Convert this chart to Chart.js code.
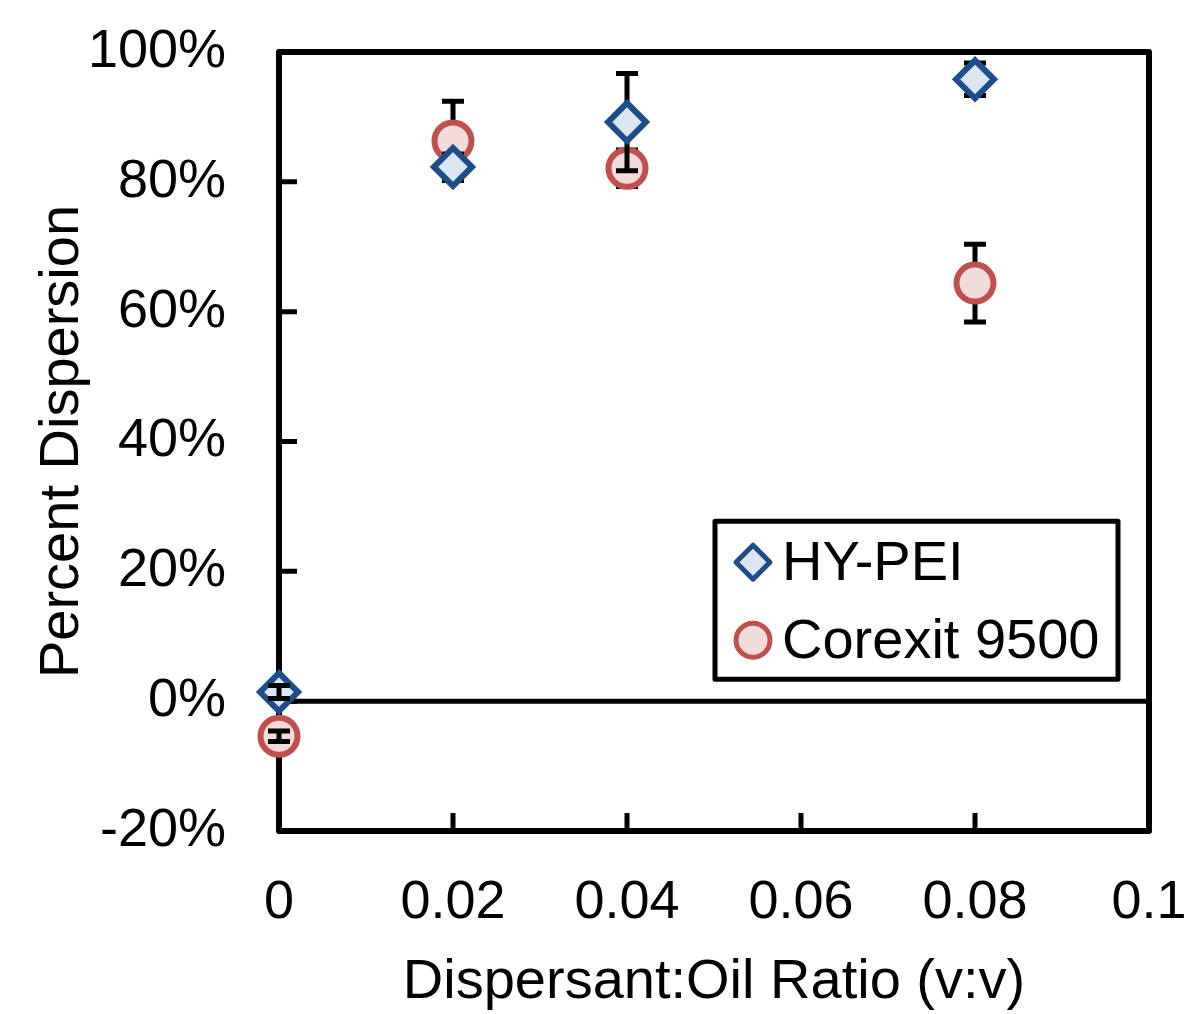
<!DOCTYPE html>
<html>
<head>
<meta charset="utf-8">
<script src="https://cdn.jsdelivr.net/npm/chart.js@4.4.1/dist/chart.umd.min.js"></script>
<style>
  html, body { margin: 0; padding: 0; background: #fff; }
  #wrap { width: 1190px; height: 1014px; }
</style>
</head>
<body>
<div id="wrap"><canvas id="myChart" width="1190" height="1014"></canvas></div>
<script>
var ratios = [0, 0.02, 0.04, 0.08];
var hyPei = [1.4, 82.3, 89.2, 95.8];
var hyPeiErr = [1.0, 2.0, 7.5, 2.5];
var corexit = [-5.4, 86.3, 82.1, 64.4];
var corexitErr = [0.8, 6.1, 2.8, 6.0];
var xTickLabels = ["0", "0.02", "0.04", "0.06", "0.08", "0.1"];
var yTickLabels = ["-20%", "0%", "20%", "40%", "60%", "80%", "100%"];
var seriesNames = ["HY-PEI", "Corexit 9500"];

Chart.defaults.font.family = "'Liberation Sans', Arial, sans-serif";
Chart.defaults.color = "#000";

var blueLine = "#1c4f8a";
var blueFill = "#dce6f2";
var redLine = "#c0504d";
var redFill = "#f2dcdb";

function points(vals) {
    var out = [];
    ratios.forEach(function (r, i) {
        out.push({ x: r, y: vals[i] });
    });
    return out;
}

// error bars, drawn just before each series' markers
// (points sitting on the left axis get theirs on top, like the original)
function drawErrorBars(chart, index, onTop) {
    var ds = chart.data.datasets[index];
    var xs = chart.scales.x;
    var ys = chart.scales.y;
    var c = chart.ctx;
    c.save();
    c.strokeStyle = "#000";
    c.lineWidth = 5;
    ds.data.forEach(function (p, i) {
        var px = xs.getPixelForValue(p.x);
        var atEdge = Math.abs(px - chart.chartArea.left) < 1;
        if (atEdge !== onTop) return;
        var top = ys.getPixelForValue(p.y + ds.errors[i]);
        var bot = ys.getPixelForValue(p.y - ds.errors[i]);
        c.beginPath();
        c.moveTo(px, top);
        c.lineTo(px, bot);
        c.moveTo(px - 11, top);
        c.lineTo(px + 11, top);
        c.moveTo(px - 11, bot);
        c.lineTo(px + 11, bot);
        c.stroke();
    });
    c.restore();
}

var framePlugin = {
    id: "frame",
    beforeDatasetsDraw: function (chart) {
        var c = chart.ctx;
        var a = chart.chartArea;
        var xs = chart.scales.x;
        var ys = chart.scales.y;
        c.save();
        c.strokeStyle = "#000";
        c.lineWidth = 6;
        c.lineJoin = "round";
        c.strokeRect(a.left, a.top, a.right - a.left, a.bottom - a.top);
        // inward tick marks
        c.lineWidth = 5;
        c.beginPath();
        ys.ticks.forEach(function (t) {
            var py = ys.getPixelForValue(t.value);
            c.moveTo(a.left, py);
            c.lineTo(a.left + 18, py);
        });
        xs.ticks.forEach(function (t) {
            var px = xs.getPixelForValue(t.value);
            c.moveTo(px, a.bottom);
            c.lineTo(px, a.bottom - 18);
        });
        c.stroke();
        // zero line
        var zy = ys.getPixelForValue(0);
        c.beginPath();
        c.moveTo(a.left, zy);
        c.lineTo(a.right, zy);
        c.stroke();
        c.restore();
    },
    beforeDatasetDraw: function (chart, args) {
        drawErrorBars(chart, args.index, false);
    },
    afterDatasetsDraw: function (chart) {
        drawErrorBars(chart, 0, true);
        drawErrorBars(chart, 1, true);

        // legend box inside the plot
        var c = chart.ctx;
        var a = chart.chartArea;
        var zy = chart.scales.y.getPixelForValue(0);
        var right = a.right - 31;
        var bottom = zy - 22;
        var left = right - 403;
        var top = bottom - 158;
        c.save();
        c.fillStyle = "#fff";
        c.fillRect(left, top, right - left, bottom - top);
        c.strokeStyle = "#000";
        c.lineWidth = 5;
        c.lineJoin = "round";
        c.strokeRect(left, top, right - left, bottom - top);
        c.font = "56px 'Liberation Sans', Arial, sans-serif";
        c.textBaseline = "middle";
        chart.data.datasets.forEach(function (ds, i) {
            var cy = top + 41 + i * 78;
            var cx = left + 38;
            c.lineWidth = 5;
            c.strokeStyle = ds.pointBorderColor;
            c.fillStyle = ds.pointBackgroundColor;
            Chart.helpers.drawPoint(c, { pointStyle: ds.pointStyle, radius: 17, rotation: 0, borderWidth: 5 }, cx, cy);
            c.fillStyle = "#000";
            c.fillText(seriesNames[i], left + 67, cy + 2);
        });
        c.restore();
    },
};

var ctx = document.getElementById("myChart").getContext("2d");
var myChart = new Chart(ctx, {
    type: "scatter",
    plugins: [framePlugin],
    data: {
        datasets: [
            {
                label: seriesNames[0],
                data: points(hyPei),
                errors: hyPeiErr,
                pointStyle: "rectRot",
                pointRadius: 19,
                pointHoverRadius: 19,
                pointBorderWidth: 6,
                pointBorderColor: blueLine,
                pointBackgroundColor: blueFill,
                clip: false,
            },
            {
                label: seriesNames[1],
                data: points(corexit),
                errors: corexitErr,
                pointStyle: "circle",
                pointRadius: 18.5,
                pointHoverRadius: 18.5,
                pointBorderWidth: 6,
                pointBorderColor: redLine,
                pointBackgroundColor: redFill,
                clip: false,
            },
        ],
    },
    options: {
        responsive: false,
        animation: false,
        events: [],
        layout: {
            padding: { top: 52, right: 41, bottom: 0, left: 0 },
        },
        plugins: {
            legend: { display: false },
            tooltip: { enabled: false },
        },
        scales: {
            x: {
                type: "linear",
                min: 0,
                max: 0.1,
                grid: { display: false, drawTicks: false },
                border: { display: false },
                afterFit: function (scale) {
                    scale.height = 183;
                    scale.paddingLeft = 0;
                    scale.paddingRight = 0;
                },
                ticks: {
                    stepSize: 0.02,
                    padding: 45,
                    maxRotation: 0,
                    font: { size: 54, lineHeight: 1 },
                    callback: function (value, index) {
                        return xTickLabels[index];
                    },
                },
                title: {
                    display: true,
                    text: "Dispersant:Oil Ratio (v:v)",
                    font: { size: 56, lineHeight: 1 },
                    padding: { top: 0, bottom: 3 },
                },
            },
            y: {
                min: -20,
                max: 100,
                grid: { display: false, drawTicks: false },
                border: { display: false },
                afterFit: function (scale) {
                    scale.width = 279;
                    scale.paddingTop = 0;
                    scale.paddingBottom = 0;
                },
                ticks: {
                    stepSize: 20,
                    padding: 53,
                    font: { size: 54, lineHeight: 1 },
                    callback: function (value, index) {
                        return yTickLabels[index];
                    },
                },
                title: {
                    display: true,
                    text: "Percent Dispersion",
                    font: { size: 56, lineHeight: 1 },
                    padding: { top: 35, bottom: 0 },
                },
            },
        },
    },
});
</script>
</body>
</html>
